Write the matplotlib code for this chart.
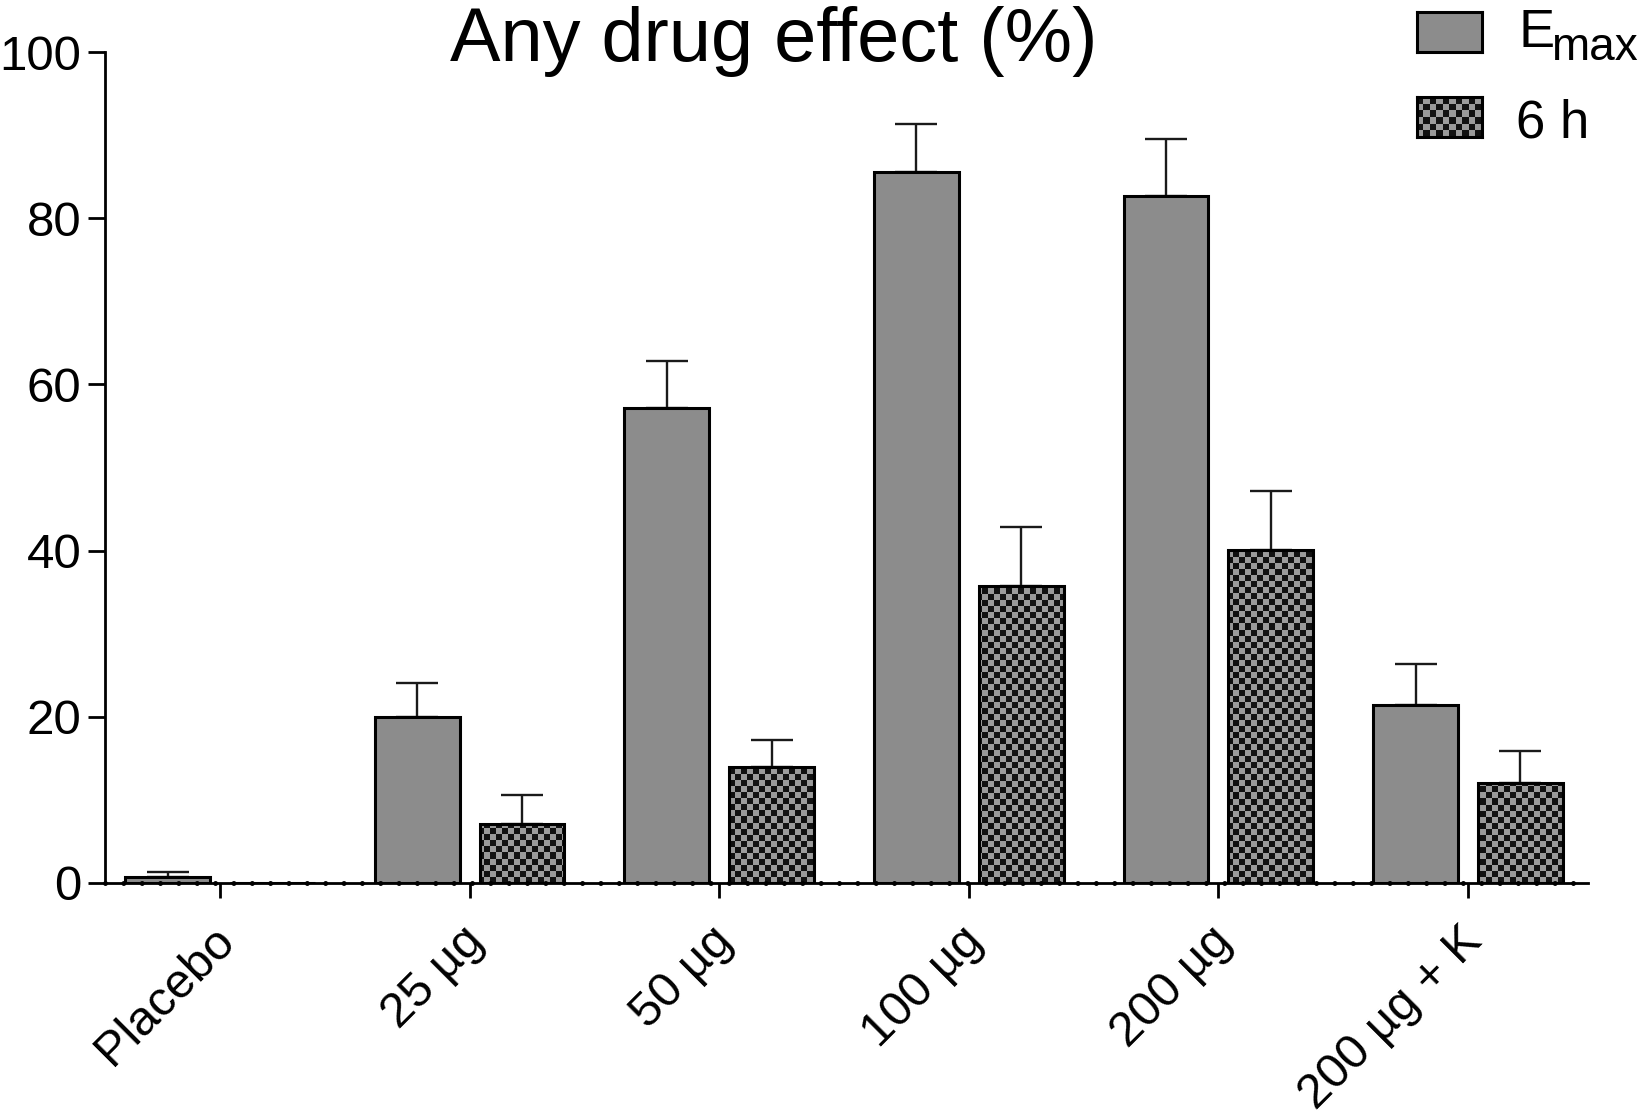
import numpy as np
import matplotlib
matplotlib.use('Agg')
import matplotlib.pyplot as plt
from matplotlib.colors import ListedColormap
import matplotlib.transforms as mtransforms

categories = ['Placebo', '25 µg', '50 µg', '100 µg', '200 µg', '200 µg + K']
emax_mean = [0.7, 20.0, 57.2, 85.6, 82.7, 21.4]
emax_err = [0.6, 4.1, 5.6, 5.7, 6.8, 5.0]
h6_mean = [0.0, 7.1, 13.9, 35.7, 40.1, 12.0]
h6_err = [0.0, 3.5, 3.3, 7.2, 7.1, 3.9]
yticks = [0, 20, 40, 60, 80, 100]
title = 'Any drug effect (%)'

plt.rcParams['font.family'] = ['Liberation Sans', 'DejaVu Sans']

W, H = 1644, 1120
fig = plt.figure(figsize=(W / 100, H / 100), dpi=100)
L, R, B, T = 105, 1588, 883, 52
ax = fig.add_axes([L / W, 1 - B / H, (R - L) / W, (B - T) / H])

n = len(categories)
x = np.arange(n)
off = 0.21
bw = 0.34
xlim = (-0.461, n - 1 + 0.481)

gray = '#8c8c8c'
checker_cmap = ListedColormap(['#111111', '#9a9a9a'])

ax.bar(x - off, emax_mean, bw, color=gray, edgecolor='black', linewidth=2.2, zorder=2)
h6_bars = ax.bar(x + off, h6_mean, bw, facecolor='none', edgecolor='black',
                 linewidth=2.2, zorder=3)

cell = 6
nx = int((R - L) / cell)
ny = int((B - T) / cell)
chk = np.add.outer(np.arange(ny), np.arange(nx)) % 2
for b in h6_bars:
    im = ax.imshow(chk, cmap=checker_cmap, extent=(xlim[0], xlim[1], 0, 100),
                   aspect='auto', interpolation='nearest', origin='lower', zorder=2.5)
    im.set_clip_path(b)

e_mask = np.array(emax_err) > 0
ax.errorbar((x - off)[e_mask], np.array(emax_mean)[e_mask],
            yerr=[np.zeros(e_mask.sum()), np.array(emax_err)[e_mask]],
            fmt='none', ecolor='#1a1a1a', elinewidth=1.7, capsize=15, capthick=1.7, zorder=1)
h_mask = np.array(h6_err) > 0
ax.errorbar((x + off)[h_mask], np.array(h6_mean)[h_mask],
            yerr=[np.zeros(h_mask.sum()), np.array(h6_err)[h_mask]],
            fmt='none', ecolor='#1a1a1a', elinewidth=1.7, capsize=15, capthick=1.7, zorder=1)

ax.set_xlim(*xlim)
ax.set_ylim(0, 100)

# dotted baseline
ax.plot(xlim, [0, 0], color='black', lw=3.6, linestyle=(0, (0.01, 3.66)),
        dash_capstyle='round', solid_capstyle='round', clip_on=False, zorder=5)

for s in ['top', 'right']:
    ax.spines[s].set_visible(False)
for s in ['left', 'bottom']:
    ax.spines[s].set_linewidth(2.0)

ax.set_yticks(yticks)
ax.set_yticklabels([str(v) for v in yticks])
ax.tick_params(axis='y', direction='out', length=12, width=2.0, labelsize=35.5, pad=5)
ax.set_xticks(x)
ax.set_xticklabels(categories, rotation=45, ha='right', va='top', rotation_mode='anchor')
ax.tick_params(axis='x', direction='out', length=11, width=2.0, labelsize=35, pad=8)
shift = mtransforms.ScaledTranslation(-9 / 100, -9 / 100, fig.dpi_scale_trans)
for lab in ax.get_xticklabels():
    lab.set_transform(lab.get_transform() + shift)

fig.text(774 / W, 1 - 61 / H, title, ha='center', va='baseline', fontsize=54.5)

# legend
def swatch(x0, y0, x1, y1, checker):
    sax = fig.add_axes([x0 / W, 1 - y1 / H, (x1 - x0) / W, (y1 - y0) / H])
    if checker:
        c = np.add.outer(np.arange(int((y1 - y0) / cell)), np.arange(int((x1 - x0) / cell))) % 2
        sax.imshow(c, cmap=checker_cmap, aspect='auto', interpolation='nearest')
    else:
        sax.set_facecolor(gray)
    sax.set_xticks([])
    sax.set_yticks([])
    for sp in sax.spines.values():
        sp.set_linewidth(2.2)
        sp.set_color('black')

swatch(1417, 12, 1482, 52, False)
swatch(1417, 97, 1482, 137, True)
fig.text(1518 / W, 1 - 47 / H, 'E', ha='left', va='baseline', fontsize=39)
fig.text(1551 / W, 1 - 60 / H, 'max', ha='left', va='baseline', fontsize=33)
fig.text(1516 / W, 1 - 137 / H, '6 h', ha='left', va='baseline', fontsize=38)

fig.savefig('out.png', dpi=100)
